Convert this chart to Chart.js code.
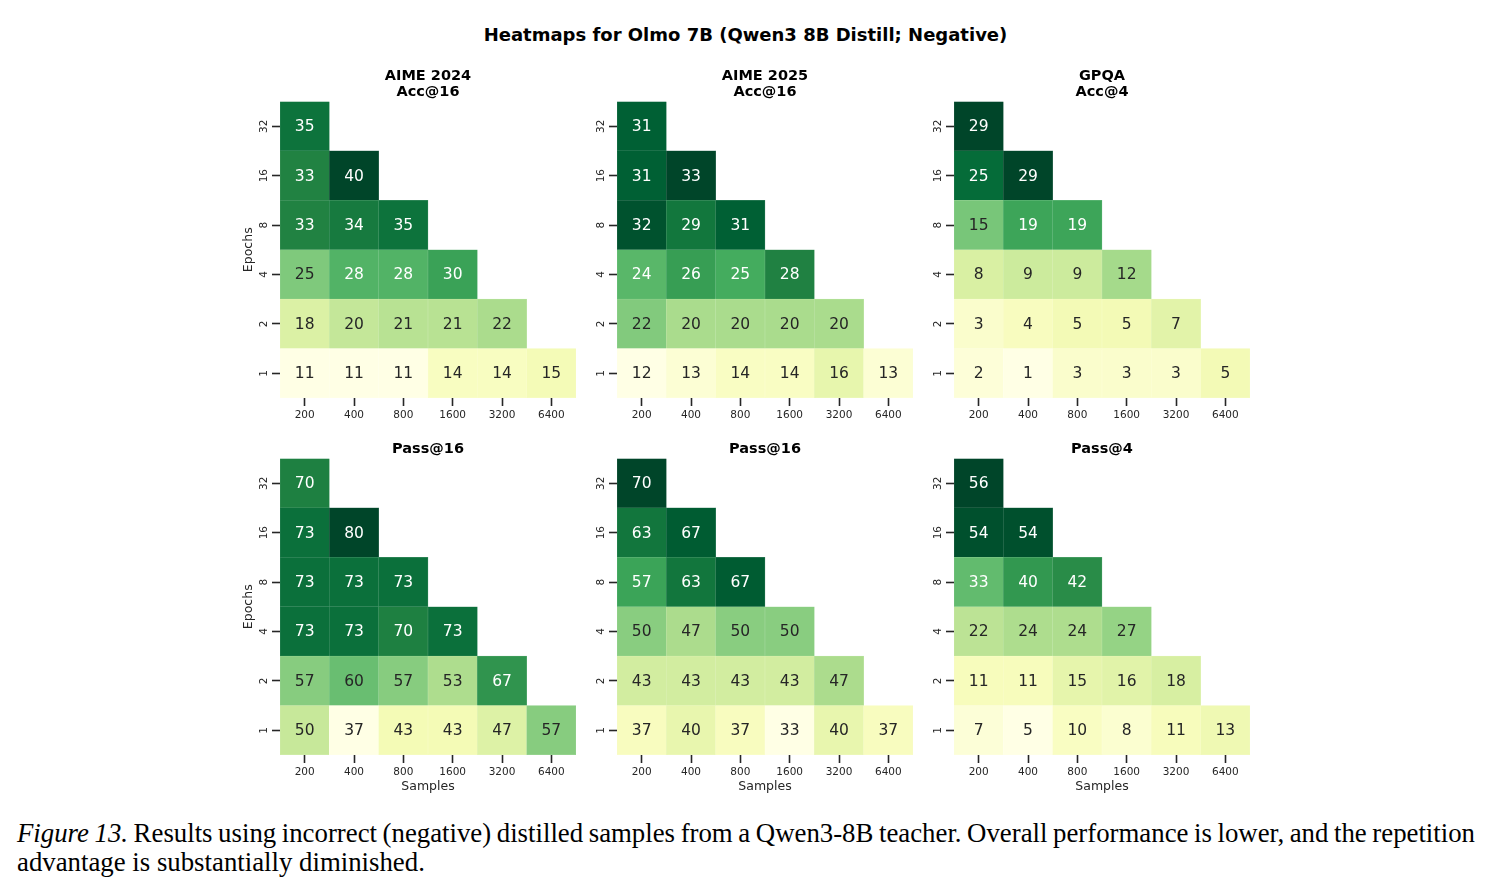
<!DOCTYPE html>
<html>
<head>
<meta charset="utf-8">
<script src="https://cdn.jsdelivr.net/npm/chart.js@4.4.1/dist/chart.umd.min.js"></script>
<style>
  html, body { margin: 0; padding: 0; background: #fff; }
  body { width: 1491px; height: 894px; position: relative; overflow: hidden; font-family: 'DejaVu Sans', sans-serif; }
  canvas { position: absolute; }
  #suptitle { position: absolute; left: 0; width: 1491px; top: 25px; line-height: 20px; text-align: center; font-weight: bold; font-size: 18px; color: #000; }
  .caption { position: absolute; left: 17px; width: 1458px; font-family: 'Liberation Serif', 'Times New Roman', serif; font-size: 26.8px; line-height: 29px; color: #000; white-space: nowrap; }
  #cap1 { top: 819px; text-align: justify; text-align-last: justify; word-spacing: -2.5px; }
  #cap2 { top: 848px; }
</style>
</head>
<body>
<div id="suptitle">Heatmaps for Olmo 7B (Qwen3 8B Distill; Negative)</div>
<div class="caption" id="cap1"><i>Figure 13.</i> Results using incorrect (negative) distilled samples from a Qwen3-8B teacher. Overall performance is lower, and the repetition</div>
<div class="caption" id="cap2">advantage is substantially diminished.</div>
<script>
const samples = ['200', '400', '800', '1600', '3200', '6400'];
const epochs = ['1', '2', '4', '8', '16', '32'];

// each list starts at 1 epoch (bottom row) and goes up to 32 epochs
const aime24Acc = [
    [11, 11, 11, 14, 14, 15],
    [18, 20, 21, 21, 22],
    [25, 28, 28, 30],
    [33, 34, 35],
    [33, 40],
    [35],
];
const aime25Acc = [
    [12, 13, 14, 14, 16, 13],
    [22, 20, 20, 20, 20],
    [24, 26, 25, 28],
    [32, 29, 31],
    [31, 33],
    [31],
];
const gpqaAcc = [
    [2, 1, 3, 3, 3, 5],
    [3, 4, 5, 5, 7],
    [8, 9, 9, 12],
    [15, 19, 19],
    [25, 29],
    [29],
];
const aime24Pass = [
    [50, 37, 43, 43, 47, 57],
    [57, 60, 57, 53, 67],
    [73, 73, 70, 73],
    [73, 73, 73],
    [73, 80],
    [70],
];
const aime25Pass = [
    [37, 40, 37, 33, 40, 37],
    [43, 43, 43, 43, 47],
    [50, 47, 50, 50],
    [57, 63, 67],
    [63, 67],
    [70],
];
const gpqaPass = [
    [7, 5, 10, 8, 11, 13],
    [11, 11, 15, 16, 18],
    [22, 24, 24, 27],
    [33, 40, 42],
    [54, 54],
    [56],
];

const FONT = 'DejaVu Sans';
const INK = '#262626';
const CELLS = 296;      // size of the 6x6 grid
const Y_W = 60;         // room left of the grid
const X_H = 39;         // room below the grid
const colX = [280, 617, 954];
const rowY = [101, 458];

const panels = [
    { title: ['AIME 2024', 'Acc@16'], values: aime24Acc, col: 0, row: 0 },
    { title: ['AIME 2025', 'Acc@16'], values: aime25Acc, col: 1, row: 0 },
    { title: ['GPQA', 'Acc@4'], values: gpqaAcc, col: 2, row: 0 },
    { title: ['Pass@16'], values: aime24Pass, col: 0, row: 1 },
    { title: ['Pass@16'], values: aime25Pass, col: 1, row: 1 },
    { title: ['Pass@4'], values: gpqaPass, col: 2, row: 1 },
];

// matplotlib YlGn
const YLGN = ['#ffffe5', '#f7fcb9', '#d9f0a3', '#addd8e', '#78c679', '#41ab5d', '#238443', '#006837', '#004529']
    .map((h) => [1, 3, 5].map((i) => parseInt(h.slice(i, i + 2), 16)));

function ylgn(t) {
    t = Math.max(0, Math.min(1, t)) * (YLGN.length - 1);
    const i = Math.min(Math.floor(t), YLGN.length - 2);
    const f = t - i;
    return YLGN[i].map((c, k) => c + (YLGN[i + 1][k] - c) * f);
}

function luminance(rgb) {
    const lin = rgb.map((c) => {
        c /= 255;
        return c <= 0.03928 ? c / 12.92 : Math.pow((c + 0.055) / 1.055, 2.4);
    });
    return 0.2126 * lin[0] + 0.7152 * lin[1] + 0.0722 * lin[2];
}

const css = (rgb) => `rgb(${rgb.map(Math.round).join(',')})`;
const lighten = (rgb, a) => rgb.map((c) => c + (255 - c) * a);

const cellLabels = {
    id: 'cellLabels',
    afterDatasetsDraw(chart) {
        const ctx = chart.ctx;
        ctx.save();
        ctx.font = `15.5px "${FONT}"`;
        ctx.textAlign = 'center';
        ctx.textBaseline = 'middle';
        chart.data.datasets.forEach((ds, i) => {
            chart.getDatasetMeta(i).data.forEach((el, j) => {
                if (ds.values[j] === undefined) return;
                const p = el.getCenterPoint();
                ctx.fillStyle = luminance(ds.colors[j]) > 0.408 ? INK : '#fff';
                ctx.fillText(String(ds.values[j]), p.x, p.y + 1);
            });
        });
        ctx.restore();
    },
};

panels.forEach((panel) => {
    const flat = panel.values.flat();
    const vmin = Math.min(...flat);
    const vmax = Math.max(...flat);
    const showX = panel.row === 1;
    const showY = panel.col === 0;

    const datasets = panel.values.map((vals, r) => {
        const colors = vals.map((v) => ylgn((v - vmin) / (vmax - vmin)));
        return {
            data: samples.map((s, c) => (c < vals.length ? [r - 0.5, r + 0.5] : null)),
            values: vals,
            colors: colors,
            backgroundColor: colors.map(css),
            borderColor: colors.map((c) => css(lighten(c, 0.25))),
            borderWidth: 0.5,
            borderSkipped: false,
            barPercentage: 1,
            categoryPercentage: 1,
            grouped: false,
        };
    });

    const titleSize = 14.5;
    const titleLine = 16;
    const titlePad = 1.5;
    const titleH = panel.title.length * titleLine + titlePad;
    const canvas = document.createElement('canvas');
    canvas.width = Y_W + CELLS + 2;
    canvas.height = Math.round(titleH + CELLS + X_H);
    canvas.style.left = colX[panel.col] - Y_W + 'px';
    canvas.style.top = rowY[panel.row] - titleH + 'px';
    document.body.appendChild(canvas);

    const tickGrid = {
        drawOnChartArea: false,
        drawTicks: true,
        offset: false,
        tickLength: 8,
        tickWidth: 1.6,
        tickColor: INK,
    };

    new Chart(canvas.getContext('2d'), {
        type: 'bar',
        data: { labels: samples, datasets: datasets },
        options: {
            responsive: false,
            animation: false,
            events: [],
            devicePixelRatio: 1,
            layout: { padding: { right: 2 } },
            scales: {
                x: {
                    type: 'category',
                    offset: true,
                    grid: tickGrid,
                    border: { display: false },
                    ticks: {
                        font: { family: FONT, size: 10.5 },
                        color: INK,
                        padding: 3,
                        maxRotation: 0,
                        autoSkip: false,
                    },
                    title: {
                        display: showX,
                        text: 'Samples',
                        font: { family: FONT, size: 12.5, lineHeight: 1.2 },
                        color: INK,
                        padding: { top: 0, bottom: 0 },
                    },
                    afterFit(s) {
                        s.height = X_H;
                        s.paddingLeft = 0;
                        s.paddingRight = 0;
                    },
                },
                y: {
                    type: 'linear',
                    min: -0.5,
                    max: 5.5,
                    afterBuildTicks(s) {
                        s.ticks = epochs.map((e, i) => ({ value: i }));
                    },
                    grid: tickGrid,
                    border: { display: false },
                    ticks: {
                        callback: (v) => epochs[v],
                        font: { family: FONT, size: 10.5 },
                        color: INK,
                        minRotation: 90,
                        maxRotation: 90,
                        crossAlign: 'center',
                        padding: 1.5,
                        autoSkip: false,
                    },
                    title: {
                        display: showY,
                        text: 'Epochs',
                        font: { family: FONT, size: 12.5, lineHeight: 1.2 },
                        color: INK,
                        padding: { top: 21, bottom: 0 },
                    },
                    afterFit(s) {
                        s.width = Y_W;
                        s.paddingTop = 0;
                        s.paddingBottom = 0;
                    },
                },
            },
            plugins: {
                legend: { display: false },
                tooltip: { enabled: false },
                title: {
                    display: true,
                    fullSize: false,
                    text: panel.title,
                    color: '#000',
                    font: { family: FONT, size: titleSize, weight: 'bold', lineHeight: titleLine / titleSize },
                    padding: { top: 0, bottom: titlePad },
                },
            },
        },
        plugins: [cellLabels],
    });
});
</script>
</body>
</html>
